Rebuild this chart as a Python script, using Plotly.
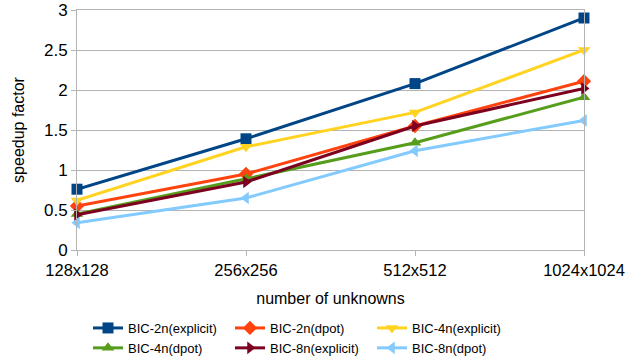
import plotly.graph_objects as go

categories = ["128x128", "256x256", "512x512", "1024x1024"]
bic2n_explicit = [0.76, 1.39, 2.08, 2.90]
bic2n_dpot = [0.55, 0.95, 1.55, 2.11]
bic4n_explicit = [0.62, 1.29, 1.72, 2.50]
bic4n_dpot = [0.45, 0.89, 1.34, 1.91]
bic8n_explicit = [0.44, 0.85, 1.55, 2.02]
bic8n_dpot = [0.34, 0.65, 1.24, 1.62]

series = [
    ("BIC-2n(explicit)", bic2n_explicit, "#004586", "square"),
    ("BIC-2n(dpot)", bic2n_dpot, "#ff420e", "diamond"),
    ("BIC-4n(explicit)", bic4n_explicit, "#ffd320", "triangle-down"),
    ("BIC-4n(dpot)", bic4n_dpot, "#579d1c", "triangle-up"),
    ("BIC-8n(explicit)", bic8n_explicit, "#7e0021", "triangle-right"),
    ("BIC-8n(dpot)", bic8n_dpot, "#83caff", "triangle-left"),
]

fig = go.Figure()
for name, vals, color, sym in series:
    fig.add_trace(go.Scatter(
        x=categories, y=vals, name=name, mode="lines+markers",
        line=dict(color=color, width=3),
        marker=dict(color=color, symbol=sym, size=11),
        cliponaxis=False,
    ))

W, H = 626, 364
font = "Liberation Sans, Arial, sans-serif"
fig.update_layout(
    width=W, height=H,
    margin=dict(l=77, r=42, t=10, b=114, autoexpand=False),
    plot_bgcolor="white", paper_bgcolor="white",
    font=dict(family=font, size=16, color="#000000"),
    xaxis=dict(
        type="category", range=[0, 3], automargin=False,
        showgrid=False, showline=True, linecolor="#b3b3b3", linewidth=1, mirror=True,
        ticks="outside", ticklen=5, tickcolor="#b3b3b3",
        title=dict(text="number of unknowns", font=dict(size=16)),
        tickfont=dict(size=16.5),
    ),
    yaxis=dict(
        range=[0, 3], dtick=0.5, automargin=False,
        showgrid=True, gridcolor="#b3b3b3", gridwidth=1,
        showline=True, linecolor="#b3b3b3", linewidth=1, mirror=True,
        ticks="outside", ticklen=5, tickcolor="#b3b3b3",
        zeroline=False,
        title=dict(text="speedup factor", font=dict(size=16)),
        tickfont=dict(size=17),
    ),
    legend=dict(
        orientation="h", xref="container", yref="container",
        x=88 / W, xanchor="left", y=1 - 313 / H, yanchor="top",
        entrywidth=97, entrywidthmode="pixels", itemwidth=30,
        font=dict(size=13), tracegroupgap=0,
    ),
)

fig.write_html("out.html", config={"displayModeBar": False},
               post_script="document.body.style.margin='0';")
